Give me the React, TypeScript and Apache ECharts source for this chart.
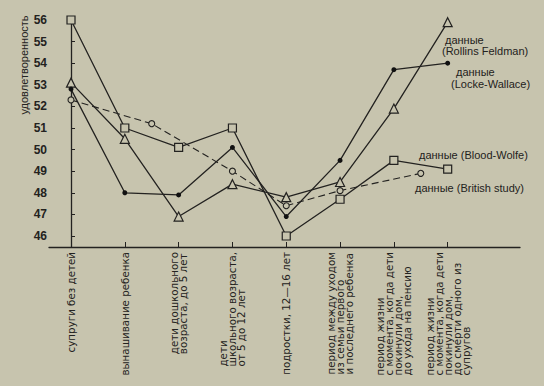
import React, { useEffect, useRef } from "react";
import * as echarts from "echarts";

const categories: string[][] = [
  ["супруги без детей"],
  ["вынашивание ребенка"],
  ["дети дошкольного", "возраста, до 5 лет"],
  ["дети", "школьного возраста,", "от 5 до 12 лет"],
  ["подростки, 12—16 лет"],
  ["период между уходом", "из семьи первого", "и последнего ребенка"],
  ["период жизни", "с момента, когда дети", "покинули дом,", "до ухода на пенсию"],
  ["период жизни", "с момента, когда дети", "покинули дом,", "до смерти одного из", "супругов"],
];
const catIndex = [0, 1, 2, 3, 4, 5, 6, 7];
const yTicks = [46, 47, 48, 49, 50, 51, 52, 53, 54, 55, 56];

const rollinsFeldman = [53.1, 50.5, 46.9, 48.4, 47.8, 48.5, 51.9, 55.9];
const lockeWallace = [52.8, 48.0, 47.9, 50.1, 46.9, 49.5, 53.7, 54.0];
const bloodWolfe = [56.0, 51.0, 50.1, 51.0, 46.0, 47.7, 49.5, 49.1];
const britishX = [0, 1.5, 3, 4, 5, 6.5];
const britishY = [52.3, 51.2, 49.0, 47.4, 48.1, 48.9];

const yAxisName = "удовлетворенность";
const legendTexts = {
  rf: ["данные", "(Rollins Feldman)"],
  lw: ["данные", "(Locke-Wallace)"],
  bw: "данные (Blood-Wolfe)",
  bs: "данные (British study)",
};

const BG = "#c7c4ae";
const INK = "#232220";
const FONT = "'Liberation Sans', Arial, Helvetica, sans-serif";
const XFONT = "'DejaVu Sans', 'Liberation Sans', sans-serif";

export default function App() {
  const ref = useRef<HTMLDivElement>(null);
  useEffect(() => {
    document.body.style.margin = "0";
    const chart = echarts.init(ref.current!, null, { renderer: "svg" });
    const pair = (arr: number[]) => arr.map((v, i) => [catIndex[i], v]);
    const lineStyle = { color: INK, width: 1.3 };
    const txt = (x: number, y: number, t: string) => ({
      type: "text",
      x,
      y,
      style: { text: t, fill: INK, font: `11px ${FONT}`, verticalAlign: "middle" },
    });
    chart.setOption({
      animation: false,
      backgroundColor: BG,
      grid: { left: 49, right: 24, top: 20, bottom: 139 },
      xAxis: {
        type: "value",
        min: -0.409,
        max: 8.344,
        splitLine: { show: false },
        axisLine: { lineStyle: { color: INK, width: 1.3 } },
        axisTick: {
          show: true,
          inside: true,
          length: 5,
          customValues: catIndex,
          lineStyle: { color: INK, width: 1 },
        },
        axisLabel: {
          customValues: catIndex,
          rotate: 90,
          margin: 5,
          color: INK,
          fontFamily: XFONT,
          fontSize: 10.3,
          lineHeight: 9,
          formatter: (v: number) =>
            categories[Math.round(v)].map((l) => `{a|${l}}`).join("\n"),
          rich: { a: { align: "left", fontSize: 10.3, lineHeight: 9, fontFamily: XFONT, color: INK } },
        },
      },
      yAxis: {
        type: "value",
        min: 45.49,
        max: 56,
        splitLine: { show: false },
        axisLine: { show: true, lineStyle: { color: INK, width: 1.3 } },
        axisTick: {
          show: true,
          inside: true,
          length: 4,
          customValues: yTicks,
          lineStyle: { color: INK, width: 1 },
        },
        axisLabel: {
          customValues: yTicks,
          margin: 2,
          color: INK,
          fontFamily: FONT,
          fontSize: 12,
          fontWeight: "bold",
        },
      },
      graphic: [
        {
          type: "text",
          x: 24,
          y: 65,
          rotation: Math.PI / 2,
          style: {
            text: yAxisName,
            fill: INK,
            font: `11px ${FONT}`,
            align: "center",
            verticalAlign: "middle",
          },
        },
        txt(445, 40, legendTexts.rf[0]),
        txt(442, 51, legendTexts.rf[1]),
        txt(456, 72, legendTexts.lw[0]),
        txt(451, 84, legendTexts.lw[1]),
        txt(419, 155, legendTexts.bw),
        txt(415, 188, legendTexts.bs),
      ],
      series: [
        {
          type: "line",
          name: "Rollins Feldman",
          data: pair(rollinsFeldman),
          lineStyle,
          symbol: "triangle",
          symbolSize: 9,
          itemStyle: { color: BG, borderColor: INK, borderWidth: 1.2 },
          z: 3,
        },
        {
          type: "line",
          name: "Locke-Wallace",
          data: pair(lockeWallace),
          lineStyle,
          symbol: "circle",
          symbolSize: 5,
          itemStyle: { color: "#111", borderColor: "#111", borderWidth: 0 },
          z: 3,
        },
        {
          type: "line",
          name: "Blood-Wolfe",
          data: pair(bloodWolfe),
          lineStyle,
          symbol: "rect",
          symbolSize: 8,
          itemStyle: { color: BG, borderColor: INK, borderWidth: 1.2 },
          z: 3,
        },
        {
          type: "line",
          name: "British study",
          data: britishX.map((x, i) => [x, britishY[i]]),
          lineStyle: { color: INK, width: 1.1, type: [7, 4] },
          symbol: "circle",
          symbolSize: 6,
          itemStyle: { color: BG, borderColor: INK, borderWidth: 1.1 },
          z: 2,
        },
      ],
    });
    return () => chart.dispose();
  }, []);
  return <div ref={ref} style={{ position: "absolute", left: 0, top: 0, width: 544, height: 386 }} />;
}
